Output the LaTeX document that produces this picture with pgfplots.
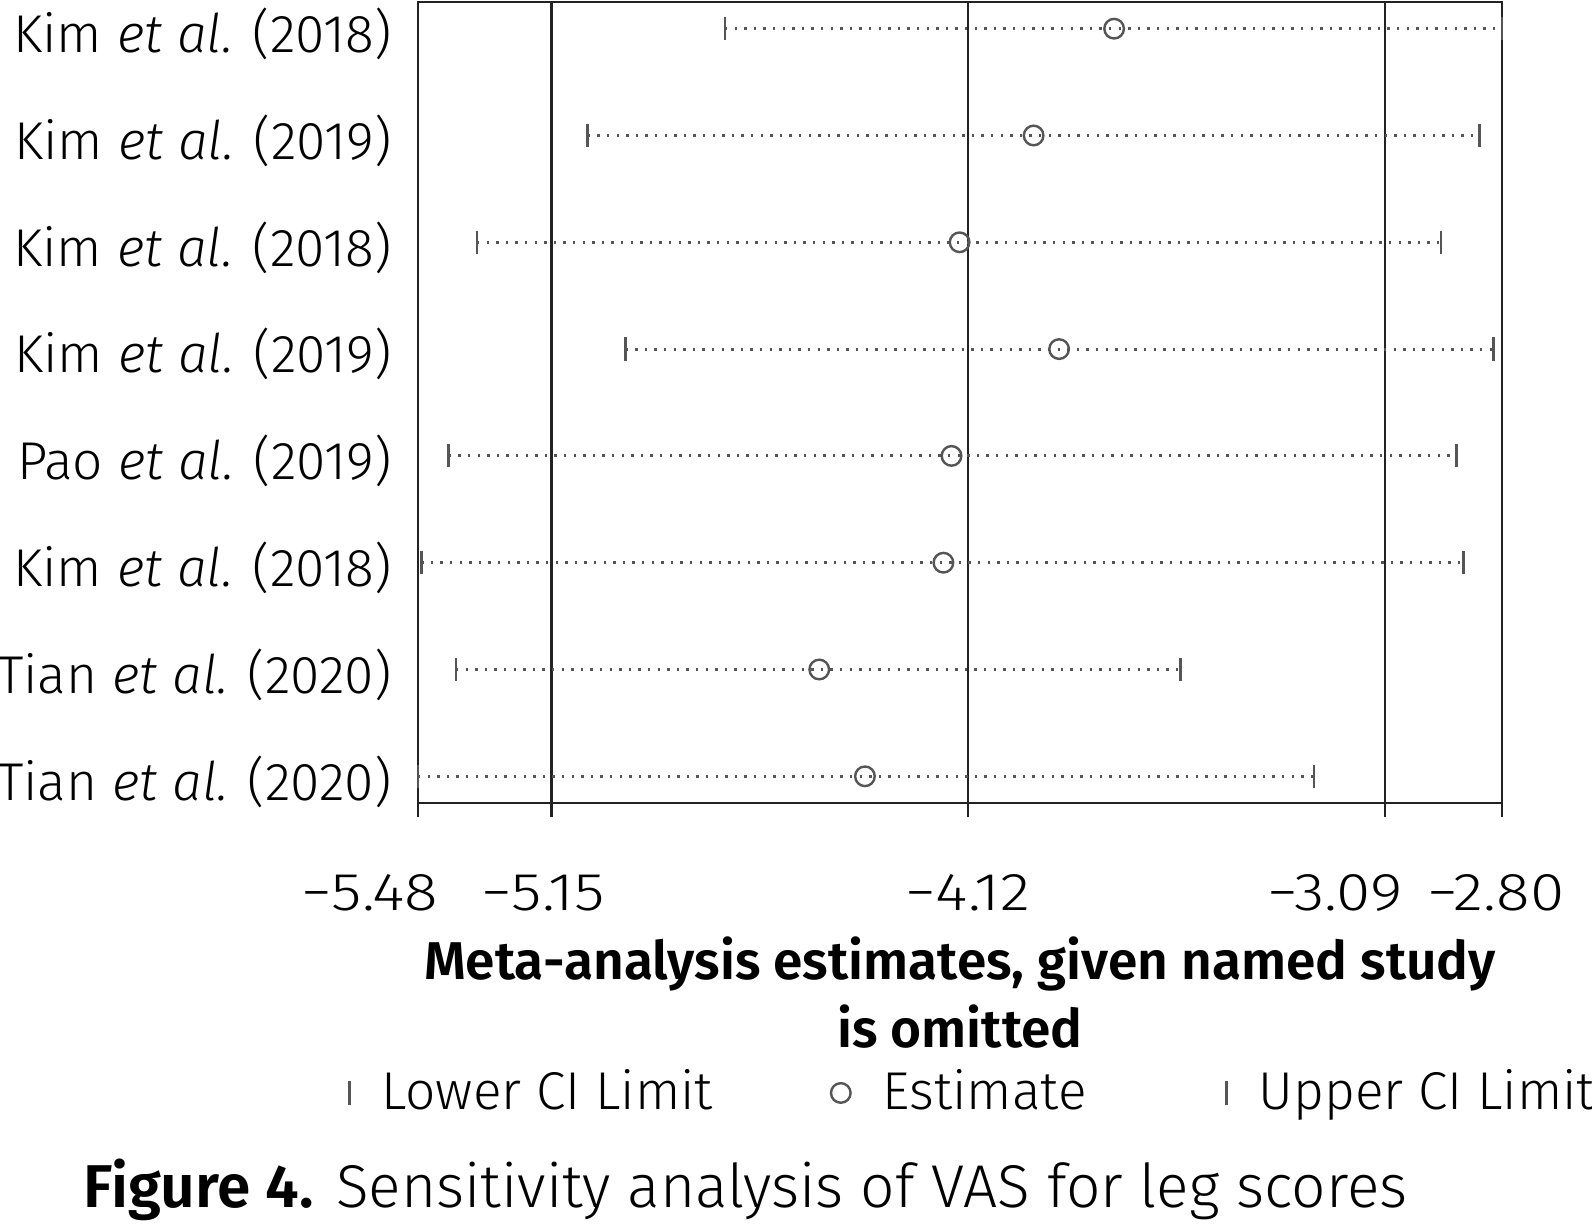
\documentclass[border=0pt]{standalone}
\usepackage{fontspec}
\setmainfont{Fira Sans Light}[BoldFont={Fira Sans SemiBold}, ItalicFont={Fira Sans Light Italic}, BoldItalicFont={Fira Sans SemiBold Italic}]
\usepackage{pgfplots}
\pgfplotsset{compat=1.18}
\usepackage{pgfplotstable}
\definecolor{axc}{HTML}{222222}
\definecolor{mk}{HTML}{555555}
\newcommand{\lf}{\fontsize{13.3pt}{17pt}\selectfont}
\newcommand{\tl}[1]{\scalebox{1.17}[1]{#1}}

\pgfplotstableread{
y lo est hi
1 -4.721 -3.759 -2.800
2 -5.060 -3.958 -2.856
3 -5.334 -4.141 -2.951
4 -4.967 -3.895 -2.821
5 -5.404 -4.161 -2.913
6 -5.472 -4.181 -2.896
7 -5.386 -4.488 -3.594
8 -5.480 -4.375 -3.265
}\data

\begin{document}
\begin{tikzpicture}
\path[use as bounding box] (-104.5pt,-105.75pt) rectangle (293.5pt,200.75pt);
\begin{axis}[
  scale only axis, width=271pt, height=200.25pt, clip=false,
  xmin=-5.48, xmax=-2.80, ymin=0.75, ymax=8.25, y dir=reverse,
  axis line style={axc, line width=0.6pt},
  xtick={-5.48,-5.15,-4.12,-3.09,-2.80}, xticklabels={},
  xmajorgrids, grid style={axc, line width=0.6pt},
  xtick pos=bottom, tick align=outside, major tick length=3.5pt,
  tick style={axc, line width=0.6pt},
  ytick={1,2,3,4,5,6,7,8},
  yticklabels={Kim \textit{et al.} (2018), Kim \textit{et al.} (2019), Kim \textit{et al.} (2018), Kim \textit{et al.} (2019), Pao \textit{et al.} (2019), Kim \textit{et al.} (2018), Tian \textit{et al.} (2020), Tian \textit{et al.} (2020)},
  ytick style={draw=none}, ytick pos=left,
  yticklabel style={font=\lf, anchor=east, inner sep=0pt, xshift=-3pt, yshift=-1.3pt},
  xlabel={Meta-analysis estimates, given named study\\is omitted},
  xlabel style={at={(axis description cs:0.5,0)}, anchor=center, yshift=-47.5pt, align=center, font=\lf\bfseries},
  legend columns=3,
  legend style={draw=none, fill=none, font=\lf, at={(axis description cs:-0.075,-0.362)}, anchor=west,
    /tikz/every odd column/.append style={column sep=6pt},
    /tikz/column 2/.append style={column sep=27.5pt},
    /tikz/column 4/.append style={column sep=33pt}},
  legend cell align=left,
  legend image code/.code={\draw[#1] plot coordinates {(0pt,0pt)};},
]
\addplot[forget plot, draw=none, mark=none, error bars/.cd, x dir=plus, x explicit, error mark=none,
  error bar style={mk, line width=0.75pt, dash pattern=on 0.6pt off 1.8pt}]
  table[x=lo, y=y, x error expr=\thisrow{hi}-\thisrow{lo}] {\data};
\addplot[only marks, mark=|, mark size=2.9pt, mk, line width=0.7pt] table[x=lo, y=y] {\data};
\addlegendentry{Lower CI Limit}
\addplot[only marks, mark=o, mark size=2.45pt, mk, line width=0.6pt] table[x=est, y=y] {\data};
\addlegendentry{Estimate}
\addplot[only marks, mark=|, mark size=2.9pt, mk, line width=0.7pt] table[x=hi, y=y] {\data};
\addlegendentry{Upper CI Limit}
\node[font=\lf, yshift=-22.5pt, xshift=-12pt] at (axis description cs:0,0) {\tl{−5.48}};
\node[font=\lf, yshift=-22.5pt, xshift=-2pt] at (axis description cs:0.1231,0) {\tl{−5.15}};
\node[font=\lf, yshift=-22.5pt] at (axis description cs:0.5075,0) {\tl{−4.12}};
\node[font=\lf, yshift=-22.5pt, xshift=-12.5pt] at (axis description cs:0.8918,0) {\tl{−3.09}};
\node[font=\lf, yshift=-22.5pt, xshift=-1.5pt] at (axis description cs:1,0) {\tl{−2.80}};
\node[anchor=west, inner sep=0pt, xshift=-83.75pt, yshift=-96.75pt, font=\fontsize{15.1pt}{18pt}\selectfont] at (axis description cs:0,0) {\textbf{Figure 4.} Sensitivity analysis of VAS for leg scores};
\end{axis}
\end{tikzpicture}
\end{document}
